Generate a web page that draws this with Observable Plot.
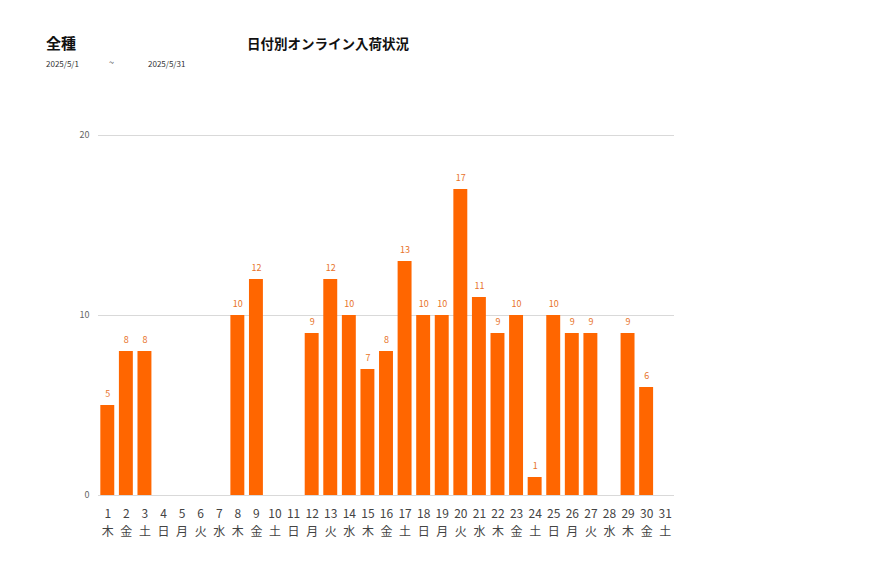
<!DOCTYPE html>
<html><head><meta charset="utf-8">
<script src="https://cdn.jsdelivr.net/npm/d3@7"></script>
<script src="https://cdn.jsdelivr.net/npm/@observablehq/plot@0.6"></script>
<style>
body{margin:0;background:#fff;font-family:"Noto Sans CJK JP","Noto Sans",sans-serif;}
#wrap{position:relative;width:877px;height:578px;}
.t{position:absolute;white-space:nowrap;color:#111;}
</style></head>
<body><div id="wrap">
<div class="t" style="left:46px;top:32px;font-size:15px;font-weight:bold;">全種</div>
<div class="t" style="left:247px;top:33px;font-size:13.5px;font-weight:bold;">日付別オンライン入荷状況</div>
<div class="t" style="left:46px;top:58px;font-size:8px;color:#333;">2025/5/1</div>
<div class="t" style="left:109px;top:56px;font-size:9px;color:#333;">~</div>
<div class="t" style="left:148px;top:58px;font-size:8px;color:#333;">2025/5/31</div>
<div id="chart" style="position:absolute;left:0;top:0;"></div>
</div>
<script>
const days = d3.range(1, 32);
const weekdays = ["木","金","土","日","月","火","水","木","金","土","日","月","火","水","木","金","土","日","月","火","水","木","金","土","日","月","火","水","木","金","土"];
const counts = [5,8,8,0,0,0,0,10,12,0,0,9,12,10,7,8,13,10,10,17,11,9,10,1,10,9,9,0,9,6,0];
const yTicks = [0,10,20];

const data = days.map((d,i)=>({day:d, wd:weekdays[i], v:counts[i]}));

const chart = Plot.plot({
  width: 877, height: 578,
  marginLeft: 98, marginRight: 203, marginTop: 135, marginBottom: 83,
  style: {fontFamily: '"Noto Sans CJK JP","Noto Sans",sans-serif', background: "transparent"},
  x: {domain: days, paddingInner: 0.25, paddingOuter: 0.125, round: false, label: null},
  y: {domain: [0,20], label: null},
  marks: [
    Plot.ruleY(yTicks, {stroke: "#d9d9d9", strokeWidth: 1}),
    Plot.barY(data, {x: "day", y: "v", fill: "#FF6600"}),
    Plot.text(data.filter(d=>d.v>0), {x: "day", y: "v", text: d=>String(d.v), dy: -11, fill: "#E8732A", fontSize: 9}),
    Plot.axisY({ticks: yTicks, tickSize: 0, tickPadding: 9, fontSize: 9, color: "#666"}),
    Plot.axisX({tickSize: 0, tickPadding: 10, fontSize: 12, color: "#444", lineHeight: 1.5,
      tickFormat: d => d + "\n" + weekdays[d-1]})
  ]
});
document.getElementById("chart").appendChild(chart);
</script>
</body></html>
